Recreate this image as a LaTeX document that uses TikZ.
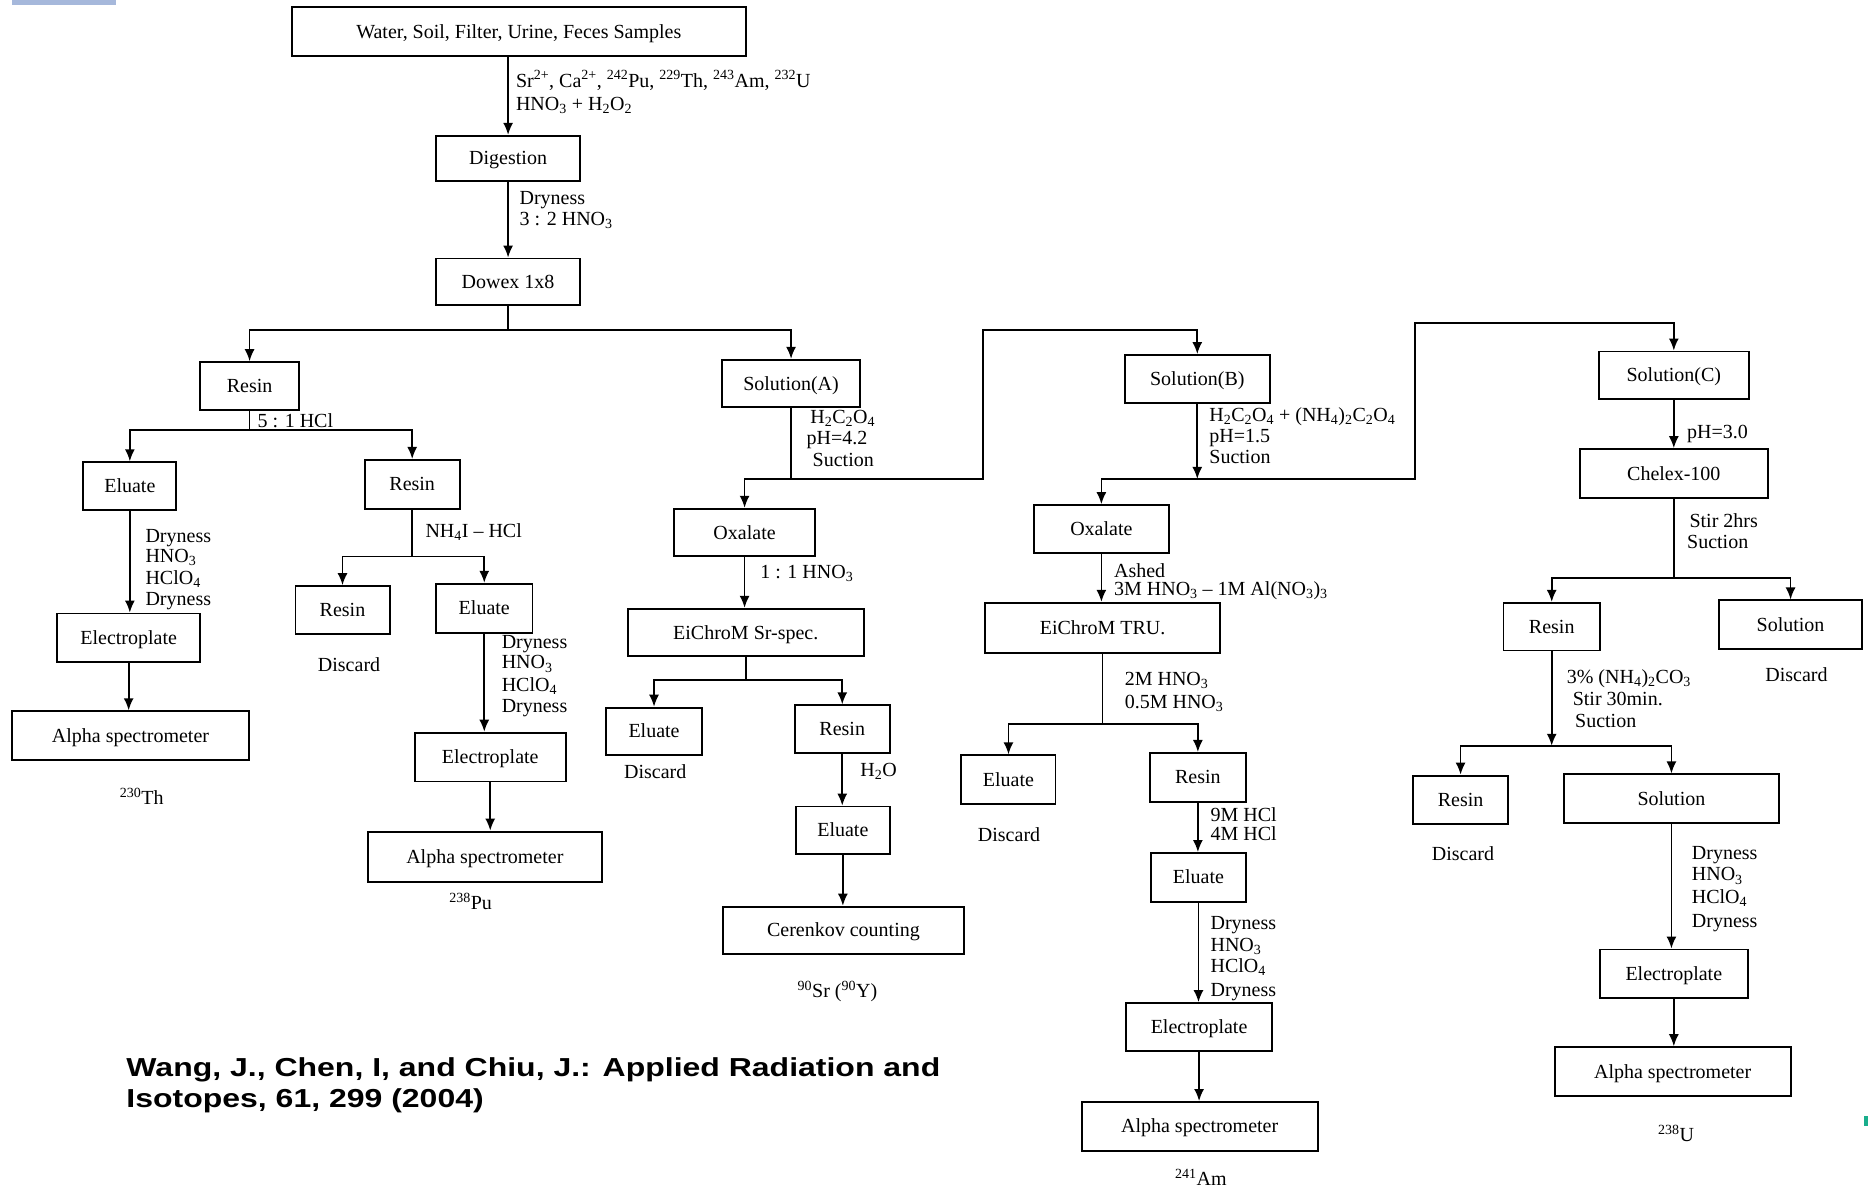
\documentclass[tikz,border=0pt]{standalone}
\usepackage{fontspec}
\setmainfont{Liberation Serif}
\newfontfamily\reffont[FakeStretch=1.23]{Liberation Sans}
\usetikzlibrary{arrows.meta,calc}
\definecolor{barblue}{HTML}{A6B8DB}
\definecolor{markteal}{HTML}{1AAE8C}
\newcommand\flowbox[6]{\node[box,minimum width={(#4-#2)*1.1913pt},minimum height={(#5-#3)*1.1913pt}] (#1) at ({(#2+#4)/2},{(#3+#5)/2}) {#6};}
\begin{document}
\begin{tikzpicture}[x=1.1913pt,y=-1.1913pt,
  box/.style={draw,line width=1.9pt,inner sep=0pt,text height=13pt,text depth=0pt,font=\fontsize{20}{22}\selectfont},
  lab/.style={anchor=west,inner sep=0pt,text height=13pt,text depth=0pt,font=\fontsize{20}{22}\selectfont},
  clab/.style={anchor=center,inner sep=0pt,text height=13pt,text depth=0pt,font=\fontsize{20}{22}\selectfont},
  con/.style={line width=1.7pt},
  arr/.style={con,-{Latex[length=12pt,width=10pt]}},
  reflab/.style={anchor=base west,inner sep=0pt,font=\reffont\bfseries\fontsize{26}{31}\selectfont},
]
\useasboundingbox (0,0) rectangle (1568,998);
\fill[barblue] (10,0) rectangle (97,4.5);
\fill[markteal] (1565,937) rectangle (1568,945);

% ---------- boxes ----------
\flowbox{samp}{245}{6}{626}{47}{Water, Soil, Filter, Urine, Feces Samples}
\flowbox{dig}{366}{114}{487}{152}{Digestion}
\flowbox{dow}{366}{217}{487}{256}{Dowex 1x8}
\flowbox{res1}{168}{304}{251}{344}{Resin}
\flowbox{solA}{606}{302}{722}{342}{Solution(A)}
\flowbox{elu1}{70}{388}{148}{428}{Eluate}
\flowbox{ep1}{48}{515}{168}{556}{Electroplate}
\flowbox{al1}{10}{597}{209}{638}{Alpha spectrometer}
\flowbox{res2}{306}{386}{386}{427}{Resin}
\flowbox{res3}{248}{492}{327}{532}{Resin}
\flowbox{elu2}{366}{490}{447}{531}{Eluate}
\flowbox{ep2}{348}{615}{475}{656}{Electroplate}
\flowbox{al2}{309}{698}{505}{740}{Alpha spectrometer}
\flowbox{ox1}{566}{427}{684}{467}{Oxalate}
\flowbox{eisr}{527}{511}{725}{551}{EiChroM Sr-spec.}
\flowbox{elu3}{509}{594}{589}{634}{Eluate}
\flowbox{res4}{667}{592}{747}{632}{Resin}
\flowbox{elu4}{668}{677}{747}{717}{Eluate}
\flowbox{cer}{607}{761}{809}{801}{Cerenkov counting}
\flowbox{solB}{944}{298}{1066}{338}{Solution(B)}
\flowbox{ox2}{868}{424}{981}{464}{Oxalate}
\flowbox{eitru}{827}{506}{1024}{548}{EiChroM TRU.}
\flowbox{elu5}{807}{634}{886}{675}{Eluate}
\flowbox{res5}{965}{632}{1046}{673}{Resin}
\flowbox{elu6}{966}{716}{1046}{757}{Eluate}
\flowbox{ep3}{945}{842}{1068}{882}{Electroplate}
\flowbox{al3}{908}{925}{1106}{966}{Alpha spectrometer}
\flowbox{solC}{1342}{295}{1468}{335}{Solution(C)}
\flowbox{chel}{1326}{377}{1484}{418}{Chelex-100}
\flowbox{res6}{1262}{506}{1343}{546}{Resin}
\flowbox{sol2}{1443}{504}{1563}{545}{Solution}
\flowbox{res7}{1186}{651}{1266}{692}{Resin}
\flowbox{sol3}{1313}{650}{1493}{691}{Solution}
\flowbox{ep4}{1343}{797}{1467}{838}{Electroplate}
\flowbox{al4}{1305}{879}{1503}{920}{Alpha spectrometer}

% ---------- connectors ----------
\draw[arr] (dig.north |- samp.south) -- (dig.north);
\draw[arr] (dig.south) -- (dow.north);
\draw[con] (dow.south) -- (dow.south |- 0,277) coordinate (j1);
\draw[arr] (j1) -| (res1.north);
\draw[arr] (j1) -| (solA.north);

\draw[con] (res1.south) -- (res1.south |- 0,361) coordinate (j2);
\draw[arr] (j2) -| (elu1.north);
\draw[arr] (j2) -| (res2.north);
\draw[arr] (elu1.south) -- (elu1.south |- ep1.north);
\draw[arr] (ep1.south) -- (ep1.south |- al1.north);

\draw[con] (res2.south) -- (res2.south |- 0,467) coordinate (j3);
\draw[arr] (j3) -| (res3.north);
\draw[arr] (j3) -| (elu2.north);
\draw[arr] (elu2.south) -- (elu2.south |- ep2.north);
\draw[arr] (ep2.south) -- (ep2.south |- al2.north);

\draw[con] (solA.south) -- (solA.south |- 0,402) coordinate (jA);
\draw[arr] (jA) -| (ox1.north);
\coordinate (tA) at (825,402);
\draw[arr] (jA) -- (tA) |- (solB.north |- 0,277) -- (solB.north);
\draw[arr] (ox1.south) -- (ox1.south |- eisr.north);
\draw[con] (eisr.south) -- (eisr.south |- 0,571) coordinate (j4);
\draw[arr] (j4) -| (elu3.north);
\draw[arr] (j4) -| (res4.north);
\draw[arr] (res4.south) -- (res4.south |- elu4.north);
\draw[arr] (elu4.south) -- (elu4.south |- cer.north);

\coordinate (jB) at (solB.south |- 0,402);
\draw[arr] (solB.south) -- (jB);
\draw[arr] (jB) -| (ox2.north);
\coordinate (tB) at (1188,402);
\draw[arr] (jB) -- (tB) |- (solC.north |- 0,271) -- (solC.north);
\draw[arr] (ox2.south) -- (ox2.south |- eitru.north);
\draw[con] (eitru.south) -- (eitru.south |- 0,608) coordinate (j5);
\draw[arr] (j5) -| (elu5.north);
\draw[arr] (j5) -| (res5.north);
\draw[arr] (res5.south) -- (res5.south |- elu6.north);
\draw[arr] (elu6.south) -- (elu6.south |- ep3.north);
\draw[arr] (ep3.south) -- (ep3.south |- al3.north);

\draw[arr] (solC.south) -- (solC.south |- chel.north);
\draw[con] (chel.south) -- (chel.south |- 0,485) coordinate (j6);
\draw[arr] (j6) -| (res6.north);
\draw[arr] (j6) -| (sol2.north);
\coordinate (j7) at (res6.south |- 0,626);
\draw[arr] (res6.south) -- (j7);
\draw[arr] (j7) -| (res7.north);
\draw[arr] (j7) -| (sol3.north);
\draw[arr] (sol3.south) -- (sol3.south |- ep4.north);
\draw[arr] (ep4.south) -- (ep4.south |- al4.north);

% ---------- labels ----------
\node[lab] (l1) at (433,68) {Sr\textsuperscript{2+}, Ca\textsuperscript{2+}, \textsuperscript{242}Pu, \textsuperscript{229}Th, \textsuperscript{243}Am, \textsuperscript{232}U};
\node[lab] (l2) at (433,87) {HNO\textsubscript{3} + H\textsubscript{2}O\textsubscript{2}};
\node[lab] (l3) at (436,166) {Dryness};
\node[lab] (l4) at (436,184) {3 : 2 HNO\textsubscript{3}};
\node[lab] (l5) at (216,353) {5 : 1 HCl};
\node[lab] (l6) at (122,450) {Dryness};
\node[lab] (l7) at (122,467) {HNO\textsubscript{3}};
\node[lab] (l8) at (122,485) {HClO\textsubscript{4}};
\node[lab] (l9) at (122,503) {Dryness};
\node[clab] (l10) at (119,670) {\textsuperscript{230}Th};
\node[lab] (l11) at (357,446) {NH\textsubscript{4}I -- HCl};
\node[clab] (l12) at (293,558) {Discard};
\node[lab] (l13) at (421,539) {Dryness};
\node[lab] (l14) at (421,556) {HNO\textsubscript{3}};
\node[lab] (l15) at (421,575) {HClO\textsubscript{4}};
\node[lab] (l16) at (421,593) {Dryness};
\node[clab] (l17) at (395,758) {\textsuperscript{238}Pu};
\node[lab] (l18) at (680,350) {H\textsubscript{2}C\textsubscript{2}O\textsubscript{4}};
\node[lab] (l19) at (677,368) {pH=4.2};
\node[lab] (l20) at (682,386) {Suction};
\node[lab] (l21) at (638,480) {1 : 1 HNO\textsubscript{3}};
\node[clab] (l22) at (550,648) {Discard};
\node[lab] (l23) at (722,646) {H\textsubscript{2}O};
\node[clab] (l24) at (703,832) {\textsuperscript{90}Sr (\textsuperscript{90}Y)};
\node[lab] (l25) at (1015,348) {H\textsubscript{2}C\textsubscript{2}O\textsubscript{4} + (NH\textsubscript{4})\textsubscript{2}C\textsubscript{2}O\textsubscript{4}};
\node[lab] (l26) at (1015,366) {pH=1.5};
\node[lab] (l27) at (1015,384) {Suction};
\node[lab] (l28) at (935,479) {Ashed};
\node[lab] (l29) at (935,494) {3M HNO\textsubscript{3} -- 1M Al(NO\textsubscript{3})\textsubscript{3}};
\node[lab] (l30) at (944,570) {2M HNO\textsubscript{3}};
\node[lab] (l31) at (944,589) {0.5M HNO\textsubscript{3}};
\node[clab] (l32) at (847,701) {Discard};
\node[lab] (l33) at (1016,684) {9M HCl};
\node[lab] (l34) at (1016,700) {4M HCl};
\node[lab] (l35) at (1016,775) {Dryness};
\node[lab] (l36) at (1016,793) {HNO\textsubscript{3}};
\node[lab] (l37) at (1016,811) {HClO\textsubscript{4}};
\node[lab] (l38) at (1016,831) {Dryness};
\node[clab] (l39) at (1008,990) {\textsuperscript{241}Am};
\node[lab] (l40) at (1416,363) {pH=3.0};
\node[lab] (l41) at (1418,437) {Stir 2hrs};
\node[lab] (l42) at (1416,455) {Suction};
\node[clab] (l43) at (1508,567) {Discard};
\node[lab] (l44) at (1315,568) {3\% (NH\textsubscript{4})\textsubscript{2}CO\textsubscript{3}};
\node[lab] (l45) at (1320,587) {Stir 30min.};
\node[lab] (l46) at (1322,605) {Suction};
\node[clab] (l47) at (1228,717) {Discard};
\node[lab] (l48) at (1420,716) {Dryness};
\node[lab] (l49) at (1420,734) {HNO\textsubscript{3}};
\node[lab] (l50) at (1420,753) {HClO\textsubscript{4}};
\node[lab] (l51) at (1420,773) {Dryness};
\node[clab] (l52) at (1407,953) {\textsuperscript{238}U};

\node[reflab] (ref1) at (106,904) {Wang, J., Chen, I, and Chiu, J.: Applied Radiation and};
\node[reflab] (ref2) at (106,930) {Isotopes, 61, 299 (2004)};
\end{tikzpicture}
\end{document}
